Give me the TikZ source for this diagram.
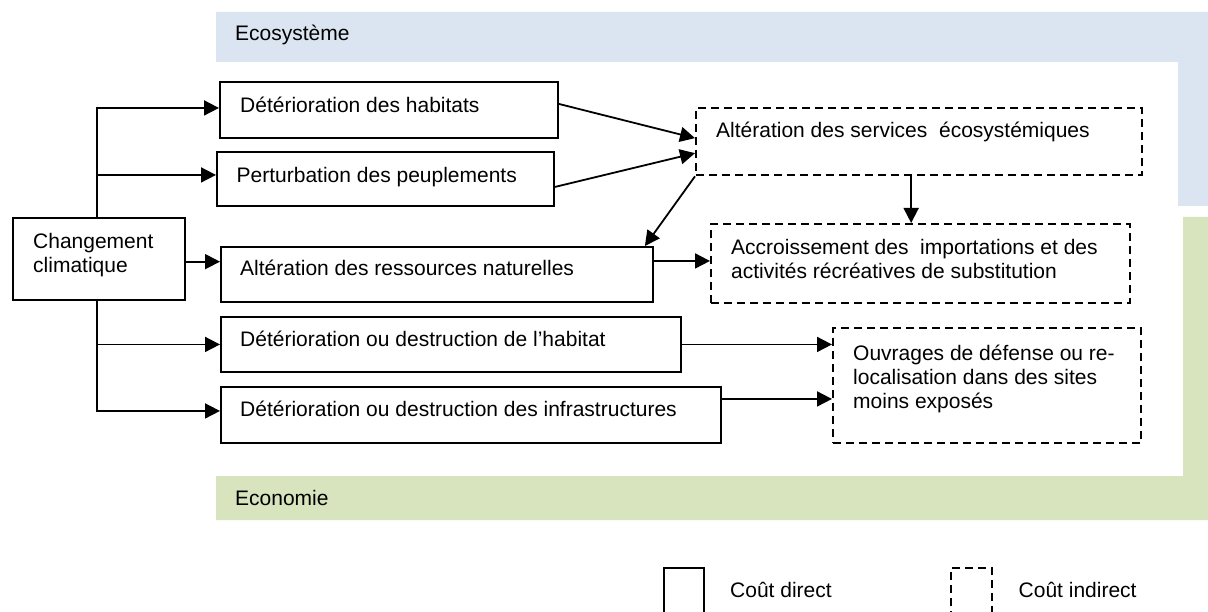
\documentclass[tikz,border=0pt]{standalone}
\usepackage{fontspec}
\setmainfont{Liberation Sans}
\usetikzlibrary{arrows.meta,calc}
\definecolor{ecoblue}{RGB}{219,229,241}
\definecolor{ecogreen}{RGB}{215,228,189}
\begin{document}
\begin{tikzpicture}[x=1pt,y=-1pt,
  every node/.style={font=\fontsize{21}{24}\selectfont},
  box/.style={draw, line width=1.9pt, fill=white, inner sep=0pt, anchor=north west},
  dbox/.style={draw, line width=2.3pt, dash pattern=on 8pt off 5pt, fill=white, inner sep=0pt, anchor=north west},
  lbl/.style={anchor=base west, inner sep=0pt},
  conn/.style={line width=1.8pt},
  arr/.style={conn, -{Triangle[length=15pt,width=15pt]}}]
\clip (0,0) rectangle (1208,612);
\fill[white] (0,0) rectangle (1208,612);
% background bands
\fill[ecoblue] (216,12) -- (1208,12) -- (1208,206) -- (1178,206) -- (1178,62) -- (216,62) -- cycle;
\fill[ecogreen] (1183,217) -- (1208,217) -- (1208,520) -- (216,520) -- (216,476) -- (1183,476) -- cycle;
\node[lbl] (eco) at (235,40.5) {Ecosystème};
\node[lbl] (econ) at (235,505.5) {Economie};
% boxes
\node[box, minimum width=172pt, minimum height=82pt] (c) at (12,217) {};
\node[box, minimum width=338pt, minimum height=56pt] (b1) at (219,81) {};
\node[box, minimum width=337pt, minimum height=54pt] (b2) at (216,151) {};
\node[box, minimum width=432pt, minimum height=55pt] (b3) at (220,246) {};
\node[box, minimum width=460pt, minimum height=55pt] (b4) at (220,316) {};
\node[box, minimum width=500pt, minimum height=56pt] (b5) at (220,386) {};
\node[dbox, minimum width=446pt, minimum height=67pt] (A) at (695,107) {};
\node[dbox, minimum width=419pt, minimum height=79pt] (B) at (710,223) {};
\node[dbox, minimum width=308pt, minimum height=115pt] (C) at (832,327) {};
% texts
\node[lbl] (tc) at (33,249) {\parbox[t]{150pt}{\raggedright Changement\\climatique}};
\node[lbl] (t1) at (240,112.5) {Détérioration des habitats};
\node[lbl] (t2) at (236.5,182.5) {Perturbation des peuplements};
\node[lbl] (t3) at (240,275.5) {Altération des ressources naturelles};
\node[lbl] (t4) at (240,346.5) {Détérioration ou destruction de l’habitat};
\node[lbl] (t5) at (240,416.5) {Détérioration ou destruction des infrastructures};
\node[lbl] (tA) at (716,137.5) {Altération des services~ écosystémiques};
\node[lbl] (tB) at (731,254.5) {\parbox[t]{400pt}{\raggedright Accroissement des~ importations et des\\activités récréatives de substitution}};
\node[lbl] (tC) at (853,360.5) {\parbox[t]{300pt}{\raggedright Ouvrages de défense ou re-\\localisation dans des sites\\moins exposés}};
% connectors
\coordinate (tt) at ($(c.north)+(-2,0)$);
\coordinate (tb) at ($(c.south)+(-2,0)$);
\draw[arr] (tt) |- ($(b1.west)+(0,-2)$);
\draw[arr] (tt) |- ($(b2.west)+(0,-4)$);
\draw[arr] ($(c.east)+(0,2.7)$) -- ($(c.east -| b3.west)+(0,2.7)$);
\draw[arr] (tb) |- (b4.west);
\draw[arr] (tb) |- ($(b5.west)+(0,-4)$);
\draw[arr] ($(b1.east)+(0,-6)$) -- ($(A.west)+(0,-3.5)$);
\draw[arr] ($(b2.east)+(0,8)$) -- ($(A.west)+(0,11.5)$);
\draw[arr] (A.south west) -- ($(b3.north east)+(-9,0)$);
\coordinate (ad) at ($(A.south)+(-8,0)$);
\draw[arr] (ad) -- (ad |- B.north);
\draw[arr] ($(b3.east)+(0,-13.5)$) -- ($(b3.east -| B.west)+(0,-13.5)$);
\draw[arr] (b4.east) -- (b4.east -| C.west);
\draw[arr] ($(b5.east)+(0,-16)$) -- ($(b5.east -| C.west)+(0,-16)$);
% legend
\node[box, minimum width=40pt, minimum height=70pt] (ld) at (663,567) {};
\node[dbox, minimum width=41pt, minimum height=70pt] (li) at (950,567) {};
\node[lbl] (tld) at (730,597.5) {Coût direct};
\node[lbl] (tli) at (1018.5,597.5) {Coût indirect};
\end{tikzpicture}
\end{document}
